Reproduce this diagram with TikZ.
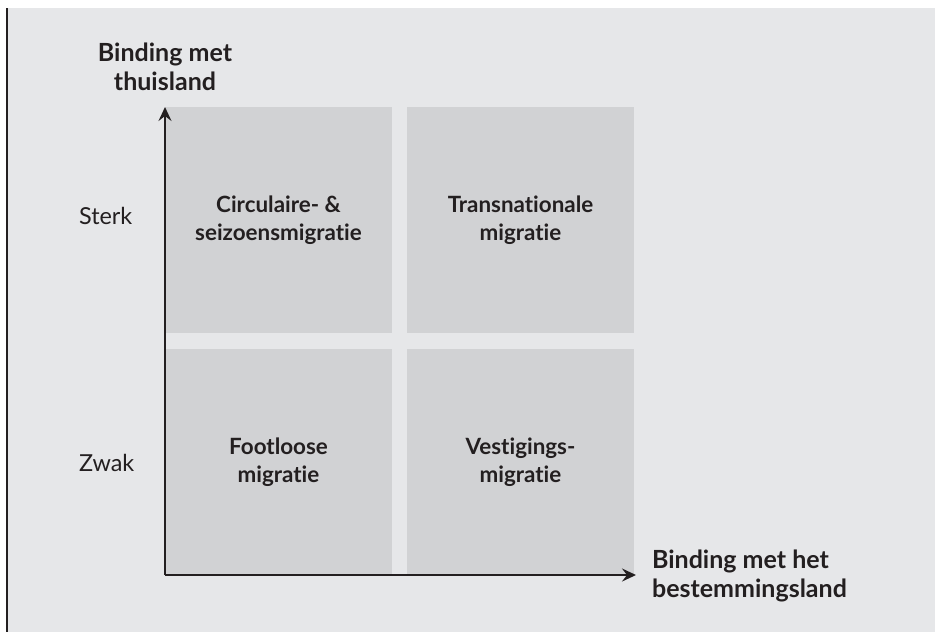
\documentclass[tikz,border=0pt]{standalone}
\usepackage{fontspec}
\setmainfont{Lato}[Ligatures={NoCommon}]
\usetikzlibrary{arrows.meta}
\definecolor{paneel}{HTML}{E6E7E9}
\definecolor{vlak}{HTML}{D1D2D4}
\definecolor{inkt}{HTML}{231F20}
\begin{document}
\begin{tikzpicture}[x=0.5pt, y=-0.5pt, font=\fontsize{11}{14}\selectfont, line join=round,
    >={Stealth[length=7pt, width=6.5pt, inset=2.5pt]},
    kwadrant/.style={fill=vlak, minimum width=113.5pt, minimum height=113pt,
      inner sep=0pt, align=center, text=inkt, font=\fontsize{11.2}{14}\selectfont\bfseries},
    aslabel/.style={align=center, text=inkt, font=\fontsize{12.5}{14.5}\selectfont\bfseries},
    niveau/.style={text=inkt, anchor=west, font=\fontsize{11.7}{14}\selectfont}]
  \useasboundingbox (0,0) rectangle (935,632);
  \fill[white] (0,0) rectangle (935,632);
  \fill[paneel] (7,8) rectangle (935,632);
  \draw[inkt, line width=1.1pt] (7,8) -- (7,632);
  % kwadranten
  \node[kwadrant] (cs) at (278.5,220) {Circulaire- \&\\seizoensmigratie};
  \node[kwadrant] (tn) at (520.5,220) {Transnationale\\migratie};
  \node[kwadrant] (fl) at (278.5,462) {Footloose\\migratie};
  \node[kwadrant] (vm) at (520.5,462) {Vestigings-\\migratie};
  % assen
  \coordinate (O) at (165,575);
  \coordinate (ytop) at (165,107);
  \coordinate (xend) at (636,575);
  \draw[->, inkt, line width=1pt] (O) -- (ytop);
  \draw[->, inkt, line width=1pt] (O) -- (xend);
  \node[aslabel] (ylab) at (165,67) {Binding met\\thuisland};
  \node[aslabel, align=left, anchor=west] (xlab) at (645,576) {Binding met het\\bestemmingsland};
  \node[niveau] (sterk) at (72,216) {Sterk};
  \node[niveau] (zwak) at (72,463) {Zwak};
\end{tikzpicture}
\end{document}
